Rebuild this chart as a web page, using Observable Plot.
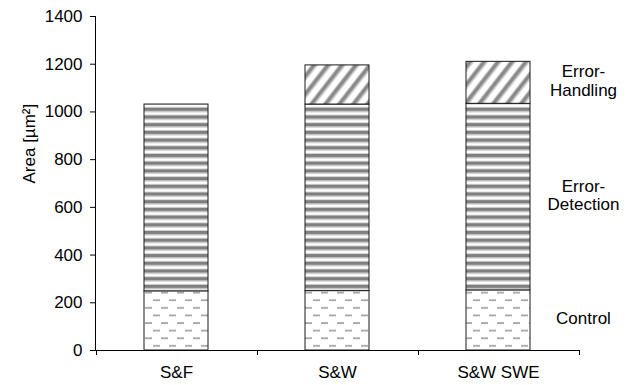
<!DOCTYPE html>
<html><head><meta charset="utf-8">
<script src="https://cdn.jsdelivr.net/npm/d3@7"></script>
<script src="https://cdn.jsdelivr.net/npm/@observablehq/plot@0.6"></script>
<style>body{margin:0;background:#fff}</style>
</head><body><div id="chart"></div>
<script>
const categories = ["S&F", "S&W", "S&W SWE"];
const components = ["Control", "Error-Detection", "Error-Handling"];
const componentLabels = ["Control", "Error-\nDetection", "Error-\nHandling"];
const control = [248, 249, 252];
const errorDetection = [783, 782, 782];
const errorHandling = [0, 164, 176];
const yTicks = [0, 200, 400, 600, 800, 1000, 1200, 1400];
const yLabel = "Area [µm²]";

const series = [control, errorDetection, errorHandling];
const rows = [];
categories.forEach((c, i) => components.forEach((k, j) => {
  if (series[j][i] > 0) rows.push({category: c, component: k, value: series[j][i]});
}));

const last = categories.length - 1;
let acc = 0;
const labelRows = components.map((k, j) => {
  const v = series[j][last];
  const mid = acc + v / 2;
  acc += v;
  return {component: k, label: componentLabels[j], y: mid, category: categories[last]};
});

function defs() {
  const d = d3.create("svg:defs");
  const p1 = d.append("pattern").attr("id", "pat-control").attr("patternUnits", "userSpaceOnUse").attr("width", 16).attr("height", 15.2);
  p1.append("rect").attr("width", 16).attr("height", 15.2).attr("fill", "#fff");
  p1.append("rect").attr("x", 1).attr("y", 3).attr("width", 7).attr("height", 1.7).attr("fill", "#a3a3a3");
  p1.append("rect").attr("x", 9).attr("y", 10.6).attr("width", 7).attr("height", 1.7).attr("fill", "#a3a3a3");

  const p2 = d.append("pattern").attr("id", "pat-detect").attr("patternUnits", "userSpaceOnUse").attr("width", 10).attr("height", 7.7);
  p2.append("rect").attr("width", 10).attr("height", 7.7).attr("fill", "#fff");
  p2.append("rect").attr("y", 0).attr("width", 10).attr("height", 3.3).attr("fill", "#7f7f7f");
  p2.append("rect").attr("y", 3.3).attr("width", 10).attr("height", 1).attr("fill", "#b5b5b5");
  p2.append("rect").attr("y", 6.7).attr("width", 10).attr("height", 1).attr("fill", "#cfcfcf");

  const p3 = d.append("pattern").attr("id", "pat-handle").attr("patternUnits", "userSpaceOnUse").attr("width", 11).attr("height", 11).attr("patternTransform", "rotate(38)");
  p3.append("rect").attr("width", 11).attr("height", 11).attr("fill", "#fff");
  p3.append("rect").attr("x", 0).attr("width", 3.6).attr("height", 11).attr("fill", "#8a8a8a");
  p3.append("rect").attr("x", 3.6).attr("width", 1).attr("height", 11).attr("fill", "#c2c2c2");
  p3.append("rect").attr("x", 10).attr("width", 1).attr("height", 11).attr("fill", "#c2c2c2");
  return d.node();
}

function axisLines(index, scales, values, dims) {
  const {x, y} = scales;
  const g = d3.create("svg:g").attr("stroke", "#000").attr("fill", "none").attr("stroke-width", 1);
  const y0 = y(0), yTop = y(d3.max(yTicks));
  const xl = dims.marginLeft + 0.5;
  g.append("line").attr("x1", xl).attr("x2", xl).attr("y1", y0).attr("y2", yTop);
  const step = x(categories[1]) - x(categories[0]);
  const bw = x.bandwidth();
  const bounds = categories.map(c => x(c) + bw / 2 - step / 2)
    .concat([x(categories[last]) + bw / 2 + step / 2]);
  bounds.forEach(b => g.append("line")
    .attr("x1", Math.round(b) + 0.5).attr("x2", Math.round(b) + 0.5)
    .attr("y1", y0).attr("y2", y0 + 5));
  return g.node();
}

const font = "'Liberation Sans', Arial, sans-serif";
const fs = 17;
const chart = Plot.plot({
  width: 633,
  height: 385,
  marginTop: 16,
  marginBottom: 35,
  marginLeft: 95,
  marginRight: 54,
  style: {fontFamily: font, fontSize: fs + "px", color: "#000", background: "#fff"},
  x: {domain: categories, paddingInner: 0.6, paddingOuter: 0.3, label: null},
  y: {domain: [0, 1400], label: null},
  color: {domain: components, range: ["url(#pat-control)", "url(#pat-detect)", "url(#pat-handle)"]},
  marks: [
    defs,
    Plot.barY(rows, {x: "category", y: "value", fill: "component", stroke: "#1a1a1a", strokeWidth: 1}),
    Plot.ruleY([0], {stroke: "#000"}),
    axisLines,
    Plot.axisY({ticks: yTicks, tickFormat: d3.format("d"), tickSize: 5, tickPadding: 8, label: null, fontSize: fs, stroke: "#000", fill: "#000"}),
    Plot.text([yLabel], {frameAnchor: "left", dx: -66, rotate: -90, fontSize: fs, fill: "#000"}),
    Plot.axisX({tickSize: 0, tickPadding: 15, label: null, fontSize: fs, fill: "#000"}),
    Plot.text(labelRows, {x: "category", y: "y", text: "label", dx: 85, dy: -2, lineHeight: 1.1, fontSize: fs, fill: "#000"})
  ]
});
document.getElementById("chart").appendChild(chart);
</script>
</body></html>
